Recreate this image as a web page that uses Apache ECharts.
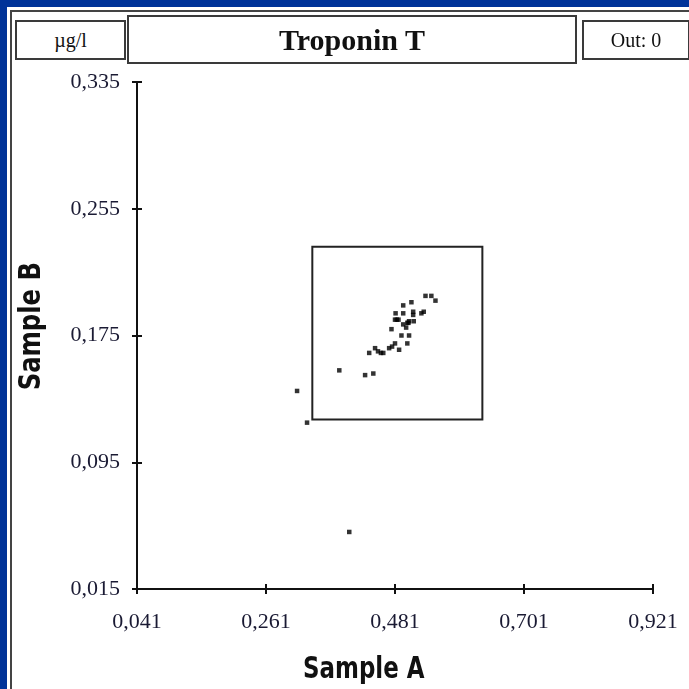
<!DOCTYPE html>
<html>
<head>
<meta charset="utf-8">
<script src="https://cdn.jsdelivr.net/npm/echarts@6/dist/echarts.min.js"></script>
<style>
  html, body { margin: 0; padding: 0; width: 689px; height: 689px; overflow: hidden; background: #003399; }
  .frame { position: absolute; left: 7px; top: 7px; width: 720px; height: 720px; background: #fff; }
  .inner { position: absolute; left: 10px; top: 10px; width: 720px; height: 720px;
           border-top: 2px solid #444; border-left: 2px solid #444; }
  .box { position: absolute; box-sizing: border-box; border: 2px solid #3a3a3a; background: #fff;
         display: flex; align-items: center; justify-content: center;
         font-family: "Liberation Serif", "Times New Roman", serif; color: #111; }
  #chart { position: absolute; left: 0; top: 0; width: 689px; height: 689px; }
</style>
</head>
<body>
<div class="frame"></div>
<div class="inner"></div>
<div id="chart"></div>
<div class="box" style="left:15px; top:20px; width:111px; height:40px; font-size:20px;">µg/l</div>
<div class="box" style="left:127px; top:15px; width:450px; height:49px; font-size:30px; font-weight:bold;">Troponin T</div>
<div class="box" style="left:582px; top:20px; width:108px; height:40px; font-size:20px;">Out: 0</div>
<script>
/* tick labels */
const xTicks = [0.041, 0.261, 0.481, 0.701, 0.921];
const yTicks = [0.015, 0.095, 0.175, 0.255, 0.335];

/* target box (Sample A range, Sample B range) */
const boxA = [0.340, 0.630];
const boxB = [0.122, 0.231];

/* measurements */
const sampleA = [
  0.386, 0.430, 0.444, 0.437, 0.447, 0.452, 0.457, 0.461, 0.471, 0.476,
  0.481, 0.488, 0.475, 0.492, 0.505, 0.502, 0.482, 0.495, 0.512, 0.512,
  0.481, 0.487, 0.495, 0.500, 0.502, 0.505, 0.513, 0.495, 0.509, 0.526,
  0.530, 0.533, 0.543, 0.550, 0.314, 0.331, 0.403, 0.484, 0.504
];
const sampleB = [
  0.153, 0.150, 0.151, 0.164, 0.167, 0.165, 0.164, 0.164, 0.167, 0.168,
  0.170, 0.166, 0.179, 0.175, 0.175, 0.170, 0.189, 0.189, 0.190, 0.188,
  0.185, 0.185, 0.182, 0.180, 0.183, 0.184, 0.184, 0.194, 0.196, 0.189,
  0.190, 0.200, 0.200, 0.197, 0.140, 0.120, 0.051, 0.185, 0.183
];

const points = sampleA.map(function (a, i) { return [a, sampleB[i]]; });

function fmt(v) {
  return v.toFixed(3).replace(".", ",");
}

const labelFont = {
  fontFamily: "Liberation Serif, Times New Roman, serif",
  fontSize: 22,
  color: "#1a1a33",
};
// narrow bold sans: condensed font squeezed a bit more with scaleX
const nameFont = {
  fontFamily: "DejaVu Sans Condensed, DejaVu Sans, sans-serif",
  fontSize: 30,
  fontWeight: "bold",
  fill: "#111",
};

var dom = document.getElementById("chart");
var myChart = echarts.init(dom, null, { renderer: "canvas" });

function axisPair(kind, ticks, lo, hi) {
  // main axis: line, labels, outer half of the cross ticks
  var main = {
    type: "value",
    min: lo,
    max: hi,
    offset: 0,
    axisLine: { show: true, onZero: false, lineStyle: { color: "#111", width: 2 } },
    axisTick: { show: true, inside: false, length: 5, customValues: ticks,
                lineStyle: { color: "#111", width: 2 } },
    axisLabel: Object.assign({ show: true, customValues: ticks, formatter: fmt,
                               margin: kind === "x" ? 22 : 17 }, labelFont),
    splitLine: { show: false },
  };
  // twin axis: inner half of the cross ticks
  var twin = {
    type: "value",
    min: lo,
    max: hi,
    offset: 0,
    position: kind === "x" ? "bottom" : "left",
    axisLine: { show: false, onZero: false },
    axisTick: { show: true, inside: true, length: 5, customValues: ticks,
                lineStyle: { color: "#111", width: 2 } },
    axisLabel: { show: false },
    splitLine: { show: false },
  };
  return [main, twin];
}

var option = {
  animation: false,
  grid: { left: 137, right: 36, top: 82, bottom: 100, containLabel: false },
  xAxis: axisPair("x", xTicks, xTicks[0], xTicks[xTicks.length - 1]),
  yAxis: axisPair("y", yTicks, yTicks[0], yTicks[yTicks.length - 1]),
  graphic: [
    { type: "text", left: 303, top: 655, scaleX: 0.85,
      style: Object.assign({ text: "Sample A" }, nameFont) },
    { type: "text", left: 17, top: 262, rotation: Math.PI / 2, scaleX: 0.9,
      style: Object.assign({ text: "Sample B" }, nameFont) },
  ],
  series: [
    {
      type: "scatter",
      xAxisIndex: 0,
      yAxisIndex: 0,
      data: points,
      symbol: "rect",
      symbolSize: 4.5,
      itemStyle: { color: "#000" },
      markArea: {
        silent: true,
        itemStyle: { color: "rgba(0,0,0,0)", borderColor: "#222", borderWidth: 2 },
        data: [[{ coord: [boxA[0], boxB[1]] }, { coord: [boxA[1], boxB[0]] }]],
      },
    },
  ],
};

myChart.setOption(option);
window.addEventListener("resize", myChart.resize);
</script>
</body>
</html>
